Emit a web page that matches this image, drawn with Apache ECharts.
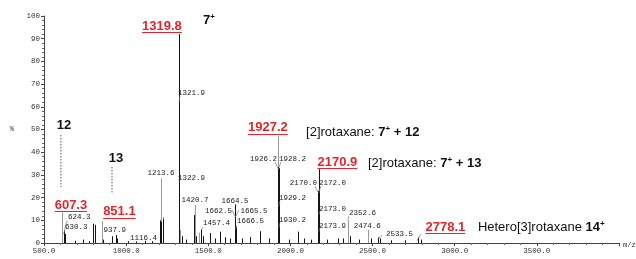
<!DOCTYPE html>
<html>
<head>
<meta charset="utf-8">
<script src="https://cdn.jsdelivr.net/npm/echarts@6/dist/echarts.min.js"></script>
<style>
  html, body { margin: 0; background: #fff; }
  #chart { width: 636px; height: 259px; }
</style>
</head>
<body>
<div id="chart"></div>
<script>
// lighter (grey) sticks
const greyMz  = [607.3, 851.1, 1213.6, 1225.0, 1330.0, 1420.7, 1445.0, 1927.2, 2352.6, 2474.6];
const greyInt = [13.5, 9.5, 28.5, 11.5, 5.7, 16.7, 4.5, 47.0, 10.0, 5.7];

// black sticks
const darkMz  = [624.3, 630.3, 690, 735, 775, 800.5, 808.0, 862, 915.0, 937.9, 946, 1010, 1062, 1116.4, 1160,
                 1205.0, 1210.0, 1222.0, 1319.8, 1321.9, 1322.9, 1340, 1362, 1415.0, 1428, 1457.4, 1470,
                 1510, 1540, 1571, 1600, 1632, 1662.5, 1664.5, 1665.5, 1666.5, 1705, 1754, 1815, 1870,
                 1926.2, 1928.2, 1929.2, 1930.2, 1990, 2046, 2085, 2125, 2170.0, 2170.9, 2172.0, 2173.0, 2173.9,
                 2225, 2290, 2322, 2360, 2420, 2490, 2533.5, 2548, 2610, 2700, 2778.1, 2792];
const darkInt = [5.5, 4.0, 1.0, 1.5, 0.8, 8.5, 8.0, 1.5, 3.0, 3.5, 2.0, 0.8, 0.7, 1.0, 0.8,
                 10.0, 9.3, 10.5, 92.0, 62.0, 25.5, 3.0, 1.5, 12.3, 3.0, 6.0, 3.0,
                 4.4, 2.0, 5.0, 2.5, 2.0, 12.0, 17.0, 12.5, 7.0, 2.0, 2.6, 5.2, 2.0,
                 33.5, 33.0, 17.0, 8.0, 1.5, 5.0, 2.0, 1.5, 23.0, 32.5, 23.0, 13.0, 6.0,
                 1.5, 2.0, 2.0, 3.0, 1.5, 2.0, 2.5, 2.0, 1.2, 1.2, 2.5, 1.5];

// tick labels
const xTicks = [500, 1000, 1500, 2000, 2500, 3000, 3500];
const yTicks = [0, 10, 20, 30, 40, 50, 60, 70, 80, 90, 100];

// small peak labels: text, anchor m/z, anchor %, align
const peakLabels = [
  ['1321.9', 1316, 66.1, 'left'],
  ['1213.6', 1212, 30.8, 'center'],
  ['1322.9', 1316, 28.6, 'left'],
  ['1420.7', 1419, 18.9, 'center'],
  ['1457.4', 1468, 8.6, 'left'],
  ['1664.5', 1662, 18.5, 'center'],
  ['1662.5', 1644, 13.9, 'right'],
  ['1665.5', 1696, 13.9, 'left'],
  ['1666.5', 1675, 9.5, 'left'],
  ['1926.2', 1919, 37.0, 'right'],
  ['1928.2', 1930, 37.0, 'left'],
  ['1929.2', 1930, 19.8, 'left'],
  ['1930.2', 1930, 10.1, 'left'],
  ['2170.0', 2161, 26.4, 'right'],
  ['2172.0', 2174, 26.4, 'left'],
  ['2173.0', 2174, 15.0, 'left'],
  ['2173.9', 2174, 7.5, 'left'],
  ['2352.6', 2357, 13.2, 'left'],
  ['2474.6', 2468, 7.5, 'center'],
  ['2533.5', 2581, 3.8, 'left'],
  ['624.3', 646, 11.5, 'left'],
  ['630.3', 628, 7.0, 'left'],
  ['937.9', 931, 5.5, 'center'],
  ['1116.4', 1106, 2.4, 'center']
];

// leader lines from label to stick, [m/z1, %1, m/z2, %2]
const leaders = [
  [1328, 65.0, 1321.9, 62.0],
  [640, 9.7, 624.3, 5.5],
  [628, 5.6, 618, 4.0],
  [1468, 7.0, 1457.4, 5.8],
  [1644, 14.5, 1664.5, 11.5],
  [1687, 14.5, 1664.5, 11.5],
  [1675, 7.9, 1666.5, 6.0],
  [1906, 35.7, 1927.2, 32.5],
  [1942, 35.7, 1927.2, 32.5],
  [1936, 18.5, 1927.5, 16.0],
  [1936, 8.8, 1927.5, 6.5],
  [2149, 25.1, 2170.9, 22.0],
  [2186, 25.1, 2170.9, 22.0],
  [2180, 14.1, 2170.9, 12.3],
  [2180, 6.6, 2170.9, 5.0],
  [2356, 11.9, 2349, 10.0],
  [2530, 1.3, 2560, 3.6],
  [2770, 1.0, 2795, 4.0]
];

// dotted markers under "12" and "13"
const dotted = [
  [603, 47.6, 603, 24.7],
  [914, 33.5, 914, 22.0]
];

// big annotations: rich text, m/z, %, align, red?
const notes = [
  ['1319.8', 1218, 95.4, 'center', true],
  ['607.3', 664, 16.7, 'center', true],
  ['851.1', 959, 13.7, 'center', true],
  ['1927.2', 1863, 50.7, 'center', true],
  ['2170.9', 2286, 35.7, 'center', true],
  ['2778.1', 2943, 7.0, 'center', true],
  ['{b|7}{s|+}', 1468, 98.2, 'left', false],
  ['{b|12}', 622, 52.0, 'center', false],
  ['{b|13}', 938, 37.4, 'center', false],
  ['{n|[2]rotaxane: }{b|7}{s|+}{b| + 12}', 2095, 48.9, 'left', false],
  ['{n|[2]rotaxane: }{b|7}{s|+}{b| + 13}', 2472, 35.2, 'left', false],
  ['{n|Hetero[3]rotaxane }{b|14}{s|+}', 3141, 7.0, 'left', false]
];

const SANS = '"Liberation Sans", Arial, sans-serif';
const MONO = '"Liberation Mono", "Courier New", monospace';
const RED = '#e5242c';

const ctx = document.createElement('canvas').getContext('2d');
function textWidth(t, font) {
  ctx.font = font;
  return ctx.measureText(t).width;
}

function stickSeries(mz, ints, color) {
  return {
    type: 'custom',
    silent: true,
    data: mz.map((m, i) => [m, ints[i]]),
    encode: { x: 0, y: 1 },
    renderItem: (params, api) => {
      const b = api.coord([api.value(0), 0]);
      const t = api.coord([api.value(0), api.value(1)]);
      const x = Math.round(b[0]) + 0.5;
      return { type: 'line', shape: { x1: x, y1: b[1], x2: x, y2: t[1] },
               style: { stroke: color, lineWidth: 1 } };
    }
  };
}

function segSeries(list, color, dash) {
  return {
    type: 'custom',
    silent: true,
    data: list,
    encode: { x: [0, 2], y: [1, 3] },
    renderItem: (params, api) => {
      const a = api.coord([api.value(0), api.value(1)]);
      const b = api.coord([api.value(2), api.value(3)]);
      return { type: 'line', shape: { x1: a[0], y1: a[1], x2: b[0], y2: b[1] },
               style: { stroke: color, lineWidth: dash ? 1 : 0.7, lineDash: dash || null } };
    }
  };
}

const rich = {
  n: { fontSize: 13, fontFamily: SANS, fill: '#111', lineHeight: 15 },
  b: { fontSize: 13, fontFamily: SANS, fontWeight: 'bold', fill: '#111', lineHeight: 15 },
  s: { fontSize: 8, fontFamily: SANS, fontWeight: 'bold', fill: '#111', lineHeight: 9, verticalAlign: 'top' }
};

const chart = echarts.init(document.getElementById('chart'));
chart.setOption({
  animation: false,
  backgroundColor: '#fff',
  grid: { left: 44, right: 17, top: 16, bottom: 16, outerBoundsMode: 'none' },
  xAxis: {
    type: 'value', min: 500, max: 4000, interval: 500,
    name: 'm/z', nameLocation: 'end', nameGap: 4,
    nameTextStyle: { fontFamily: MONO, fontSize: 7, color: '#333', verticalAlign: 'top', padding: [-1, 0, 0, 0] },
    axisLine: { lineStyle: { color: '#444', width: 1 } },
    axisTick: { length: 3, lineStyle: { color: '#444' } },
    minorTick: { show: true, splitNumber: 5, length: 2, lineStyle: { color: '#666' } },
    splitLine: { show: false },
    axisLabel: {
      showMaxLabel: false, margin: 4, fontFamily: MONO, fontSize: 7.5, color: '#333',
      formatter: v => xTicks.indexOf(v) >= 0 ? v.toFixed(1) : ''
    }
  },
  yAxis: {
    type: 'value', min: 0, max: 100, interval: 10,
    name: '%', nameLocation: 'middle', nameGap: 30, nameRotate: 0,
    nameTextStyle: { fontFamily: MONO, fontSize: 7, color: '#333' },
    axisLine: { show: true, lineStyle: { color: '#444', width: 1 } },
    axisTick: { show: true, length: 3, lineStyle: { color: '#444' } },
    minorTick: { show: true, splitNumber: 5, length: 2, lineStyle: { color: '#666' } },
    splitLine: { show: false },
    axisLabel: {
      margin: 4, fontFamily: MONO, fontSize: 7.5, color: '#333',
      formatter: v => yTicks.indexOf(v) >= 0 ? String(v) : ''
    }
  },
  series: [
    stickSeries(greyMz, greyInt, '#9a9a9a'),
    stickSeries(darkMz, darkInt, '#151515'),
    segSeries(leaders, '#777'),
    segSeries(dotted, '#555', [1.5, 1.5]),
    {
      type: 'custom',
      silent: true,
      data: peakLabels.map((p, i) => [p[1], p[2], i]),
      encode: { x: 0, y: 1 },
      renderItem: (params, api) => {
        const p = peakLabels[api.value(2)];
        const c = api.coord([api.value(0), api.value(1)]);
        return { type: 'text', x: c[0], y: c[1],
                 style: { text: p[0], fontFamily: MONO, fontSize: 7.5, fill: '#222',
                          align: p[3], verticalAlign: 'middle' } };
      }
    },
    {
      type: 'custom',
      silent: true,
      data: notes.map((n, i) => [n[1], n[2], i]),
      encode: { x: 0, y: 1 },
      renderItem: (params, api) => {
        const n = notes[api.value(2)];
        const c = api.coord([api.value(0), api.value(1)]);
        if (n[4]) {
          const font = 'bold 13px ' + SANS;
          const w = textWidth(n[0], font);
          const x0 = n[3] === 'center' ? c[0] - w / 2 : c[0];
          return { type: 'group', children: [
            { type: 'text', x: c[0], y: c[1],
              style: { text: n[0], fontFamily: SANS, fontSize: 13, fontWeight: 'bold', fill: RED,
                       align: n[3], verticalAlign: 'middle' } },
            { type: 'line', shape: { x1: x0, y1: Math.round(c[1] + 6) + 0.5, x2: x0 + w, y2: Math.round(c[1] + 6) + 0.5 },
              style: { stroke: RED, lineWidth: 1 } }
          ] };
        }
        return { type: 'text', x: c[0], y: c[1],
                 style: { text: n[0], rich: rich, align: n[3], verticalAlign: 'middle' } };
      }
    }
  ]
});
</script>
</body>
</html>
